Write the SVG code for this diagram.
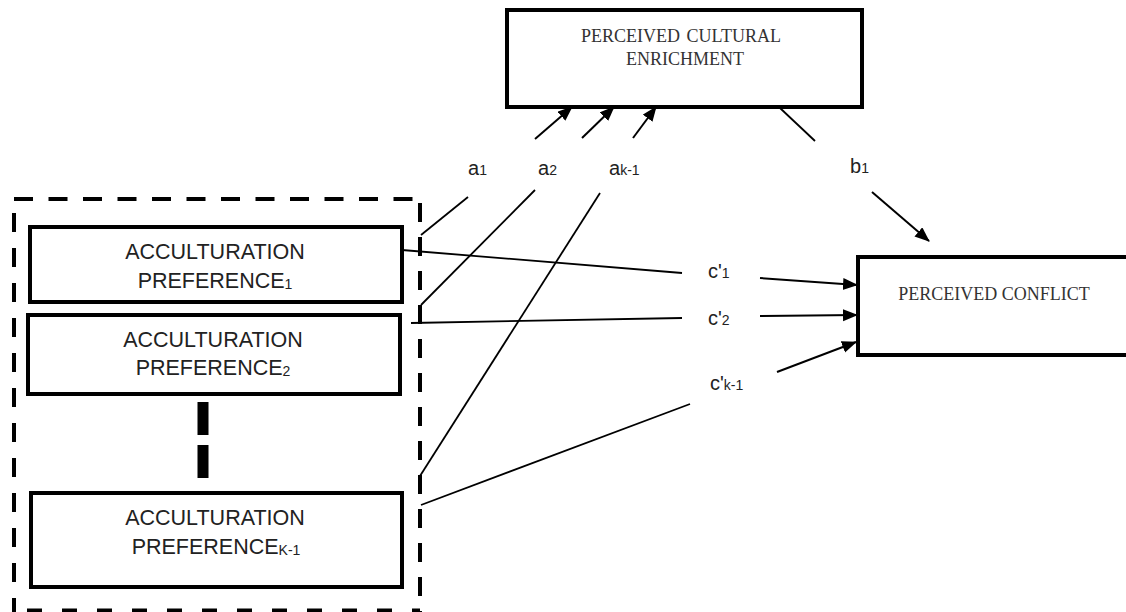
<svg xmlns="http://www.w3.org/2000/svg" width="1126" height="612" viewBox="0 0 1126 612">
<defs>
<style>
.box{fill:#fff;stroke:#000;stroke-width:4}
.dash{stroke:#000;stroke-width:4;fill:none}
.ln{stroke:#000;stroke-width:1.8;fill:none}
.arr{stroke:#000;stroke-width:2;fill:none;marker-end:url(#ah)}
.sans{font-family:"Liberation Sans",Arial,sans-serif;fill:#222}
.serif{font-family:"Liberation Serif","Times New Roman",serif;fill:#333}
.big{font-size:21.5px;text-anchor:middle}
.lab{font-size:20px}
.sub{font-size:14px}
</style>
<marker id="ah" markerUnits="userSpaceOnUse" markerWidth="16" markerHeight="14" refX="14" refY="6" orient="auto">
<path d="M0,0 L15,6 L0,12 z" fill="#000"/>
</marker>
</defs>
<rect width="1126" height="612" fill="#fff"/>

<g id="group-frame">
<line class="dash" x1="14" y1="199" x2="420" y2="199" stroke-dasharray="19 15.5"/>
<line class="dash" x1="14" y1="213" x2="14" y2="612" stroke-dasharray="19 16"/>
<line class="dash" x1="420" y1="203" x2="420" y2="612" stroke-dasharray="19 15"/>
<line class="dash" x1="27" y1="610.5" x2="420" y2="610.5" stroke-dasharray="15 20"/>
<line x1="203" y1="402" x2="203" y2="478" stroke="#000" stroke-width="11" stroke-dasharray="33 10"/>
</g>

<g id="connectors">
<line class="ln" x1="421" y1="235" x2="468" y2="197"/>
<line class="ln" x1="421" y1="305" x2="535" y2="190"/>
<line class="ln" x1="420" y1="476" x2="600" y2="193"/>
<line class="ln" x1="402" y1="250" x2="682" y2="273"/>
<line class="ln" x1="411" y1="323" x2="682" y2="318"/>
<line class="ln" x1="421" y1="505" x2="690" y2="404"/>
<line class="arr" x1="535" y1="139" x2="572" y2="107"/>
<line class="arr" x1="582" y1="138" x2="614" y2="107"/>
<line class="arr" x1="633" y1="138" x2="656" y2="107"/>
<line class="ln" x1="780" y1="108" x2="815" y2="141"/>
<line class="arr" x1="872" y1="192" x2="929" y2="241"/>
<line class="arr" x1="760" y1="278" x2="857" y2="285"/>
<line class="arr" x1="760" y1="316" x2="857" y2="315"/>
<line class="arr" x1="777" y1="372" x2="856" y2="342"/>
<g class="sans lab">
<text x="468" y="175">a<tspan class="sub">1</tspan></text>
<text x="538" y="175">a<tspan class="sub">2</tspan></text>
<text x="609" y="175">a<tspan class="sub">k-1</tspan></text>
<text x="850" y="173">b<tspan class="sub">1</tspan></text>
<text x="708" y="278">c<tspan>'</tspan><tspan class="sub">1</tspan></text>
<text x="708" y="325">c<tspan>'</tspan><tspan class="sub">2</tspan></text>
<text x="710" y="390">c<tspan>'</tspan><tspan class="sub">k-1</tspan></text>
</g>
</g>

<g id="node-enrichment">
<rect class="box" x="507" y="10" width="355" height="97"/>
<text class="serif" x="681" y="42" font-size="18" word-spacing="2" text-anchor="middle">PERCEIVED CULTURAL</text>
<text class="serif" x="685" y="65" font-size="18" text-anchor="middle">ENRICHMENT</text>
</g>

<g id="node-conflict">
<rect class="box" x="858" y="257" width="280" height="98"/>
<text class="serif" x="994" y="300" font-size="18" text-anchor="middle">PERCEIVED CONFLICT</text>
</g>

<g id="node-pref1">
<rect class="box" x="30" y="227" width="372" height="75"/>
<text class="sans big" x="215" y="259">ACCULTURATION</text>
<text class="sans big" x="215" y="288">PREFERENCE<tspan class="sub" dy="1">1</tspan></text>
</g>

<g id="node-pref2">
<rect class="box" x="28" y="315" width="372" height="79"/>
<text class="sans big" x="213" y="347">ACCULTURATION</text>
<text class="sans big" x="213" y="375">PREFERENCE<tspan class="sub" dy="1">2</tspan></text>
</g>

<g id="node-prefk">
<rect class="box" x="31" y="493" width="371" height="94"/>
<text class="sans big" x="215" y="525">ACCULTURATION</text>
<text class="sans big" x="216" y="554">PREFERENCE<tspan class="sub" dy="1">K-1</tspan></text>
</g>
</svg>
